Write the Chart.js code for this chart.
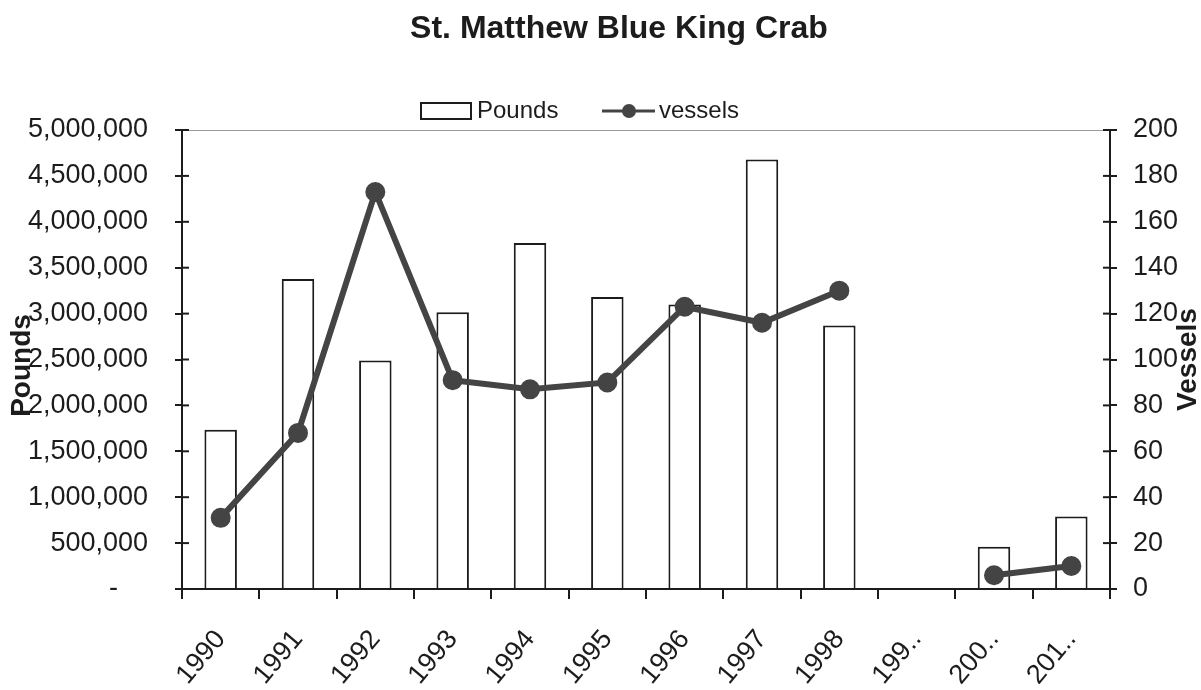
<!DOCTYPE html>
<html>
<head>
<meta charset="utf-8">
<title>St. Matthew Blue King Crab</title>
<script src="https://cdn.jsdelivr.net/npm/chart.js@4.4.1/dist/chart.umd.min.js"></script>
<style>
  html, body { margin: 0; padding: 0; background: #fff; }
  #wrap { width: 1201px; height: 690px; }
</style>
</head>
<body>
<div id="wrap"><canvas id="chart"></canvas></div>
<script>
// Values
const seasons = ['1990', '1991', '1992', '1993', '1994', '1995', '1996', '1997', '1998', '199..', '200..', '201..'];
const pounds = [1736000, 3377000, 2490000, 3016000, 3770000, 3180000, 3100000, 4680000, 2870000, null, 460000, 790000];
const vessels = [31, 68, 173, 91, 87, 90, 123, 116, 130, null, 6, 10];

// Axis ticks
const poundsMax = 5000000;
const poundsStep = 500000;
const vesselsMax = 200;
const vesselsStep = 20;

const FONT = "'Liberation Sans', Arial, Helvetica, sans-serif";
const INK = '#1c1c1c';
const LINE_GREY = '#444444';

// Title and legend drawn by hand: open box for the bars, line with a dot for vessels
const titleAndLegend = {
    id: 'titleAndLegend',
    afterDraw(chart) {
        const ctx = chart.ctx;
        const y = 111;
        ctx.save();
        ctx.fillStyle = INK;
        ctx.font = 'bold 32px ' + FONT;
        ctx.textAlign = 'center';
        ctx.textBaseline = 'alphabetic';
        ctx.fillText('St. Matthew Blue King Crab', 619, 38);

        ctx.strokeStyle = INK;
        ctx.lineWidth = 2;
        ctx.strokeRect(421, 103, 50, 16);

        ctx.strokeStyle = LINE_GREY;
        ctx.lineWidth = 3;
        ctx.beginPath();
        ctx.moveTo(602, y);
        ctx.lineTo(655, y);
        ctx.stroke();
        ctx.fillStyle = LINE_GREY;
        ctx.beginPath();
        ctx.arc(629, y, 7, 0, Math.PI * 2);
        ctx.fill();

        ctx.fillStyle = INK;
        ctx.font = '24px ' + FONT;
        ctx.textBaseline = 'middle';
        ctx.textAlign = 'left';
        ctx.fillText('Pounds', 477, y);
        ctx.fillText('vessels', 659, y);
        ctx.restore();
    }
};

// Axis titles (both read bottom to top) and small tick stubs inside the plot
const axisExtras = {
    id: 'axisExtras',
    afterDraw(chart) {
        const ctx = chart.ctx;
        const area = chart.chartArea;
        const left = chart.scales.y;
        const right = chart.scales.y1;
        const midY = (area.top + area.bottom) / 2;
        ctx.save();

        // faint top frame line
        ctx.strokeStyle = '#9a9a9a';
        ctx.lineWidth = 1;
        ctx.beginPath();
        ctx.moveTo(area.left, area.top + 0.5);
        ctx.lineTo(area.right, area.top + 0.5);
        ctx.stroke();

        // ticks crossing the axes
        ctx.strokeStyle = INK;
        ctx.lineWidth = 2;
        left.ticks.forEach(t => {
            const py = left.getPixelForValue(t.value);
            ctx.beginPath();
            ctx.moveTo(area.left, py);
            ctx.lineTo(area.left + 7, py);
            ctx.stroke();
        });
        right.ticks.forEach(t => {
            const py = right.getPixelForValue(t.value);
            ctx.beginPath();
            ctx.moveTo(area.right - 7, py);
            ctx.lineTo(area.right, py);
            ctx.stroke();
        });

        ctx.fillStyle = INK;
        ctx.font = 'bold 28px ' + FONT;
        ctx.textAlign = 'center';
        ctx.textBaseline = 'middle';
        ctx.translate(22, midY + 6);
        ctx.rotate(-Math.PI / 2);
        ctx.fillText('Pounds', 0, 0);
        ctx.rotate(Math.PI / 2);
        ctx.translate(1188 - 22, -6);
        ctx.rotate(-Math.PI / 2);
        ctx.fillText('Vessels', 0, 0);
        ctx.restore();
    }
};

const chart = new Chart(document.getElementById('chart'), {
    type: 'bar',
    data: {
        labels: seasons,
        datasets: [
            {
                type: 'bar',
                label: 'Pounds',
                data: pounds,
                yAxisID: 'y',
                backgroundColor: '#ffffff',
                borderColor: INK,
                borderWidth: 2,
                barPercentage: 0.42,
                categoryPercentage: 1,
                order: 1
            },
            {
                type: 'line',
                label: 'vessels',
                data: vessels,
                yAxisID: 'y1',
                borderColor: LINE_GREY,
                backgroundColor: LINE_GREY,
                borderWidth: 6,
                pointRadius: 7,
                pointBackgroundColor: LINE_GREY,
                pointBorderColor: LINE_GREY,
                tension: 0,
                spanGaps: false,
                order: 0
            }
        ]
    },
    options: {
        responsive: true,
        maintainAspectRatio: false,
        animation: false,
        layout: { padding: { top: 130 } },
        plugins: {
            legend: { display: false },
            tooltip: { enabled: false },
            title: { display: false }
        },
        scales: {
            x: {
                afterFit(scale) { scale.height = 101; },
                grid: {
                    offset: true,
                    drawOnChartArea: false,
                    drawTicks: true,
                    tickLength: 10,
                    color: INK,
                    lineWidth: 2
                },
                border: { display: true, color: INK, width: 2 },
                ticks: {
                    autoSkip: false,
                    minRotation: 50,
                    maxRotation: 50,
                    padding: 25,
                    color: INK,
                    font: { family: FONT, size: 27 }
                }
            },
            y: {
                position: 'left',
                min: 0,
                max: poundsMax,
                afterFit(scale) { scale.width = 182; },
                grid: {
                    drawOnChartArea: false,
                    drawTicks: true,
                    tickLength: 7,
                    color: INK,
                    lineWidth: 2
                },
                border: { display: true, color: INK, width: 2 },
                ticks: {
                    stepSize: poundsStep,
                    padding: 27,
                    color: INK,
                    font: { family: FONT, size: 27 },
                    callback: v => v === 0 ? '-    ' : v.toLocaleString('en-US')
                }
            },
            y1: {
                position: 'right',
                min: 0,
                max: vesselsMax,
                afterFit(scale) { scale.width = 91; },
                grid: {
                    drawOnChartArea: false,
                    drawTicks: true,
                    tickLength: 7,
                    color: INK,
                    lineWidth: 2
                },
                border: { display: true, color: INK, width: 2 },
                ticks: {
                    stepSize: vesselsStep,
                    padding: 16,
                    color: INK,
                    font: { family: FONT, size: 27 }
                }
            }
        }
    },
    plugins: [titleAndLegend, axisExtras]
});
</script>
</body>
</html>
